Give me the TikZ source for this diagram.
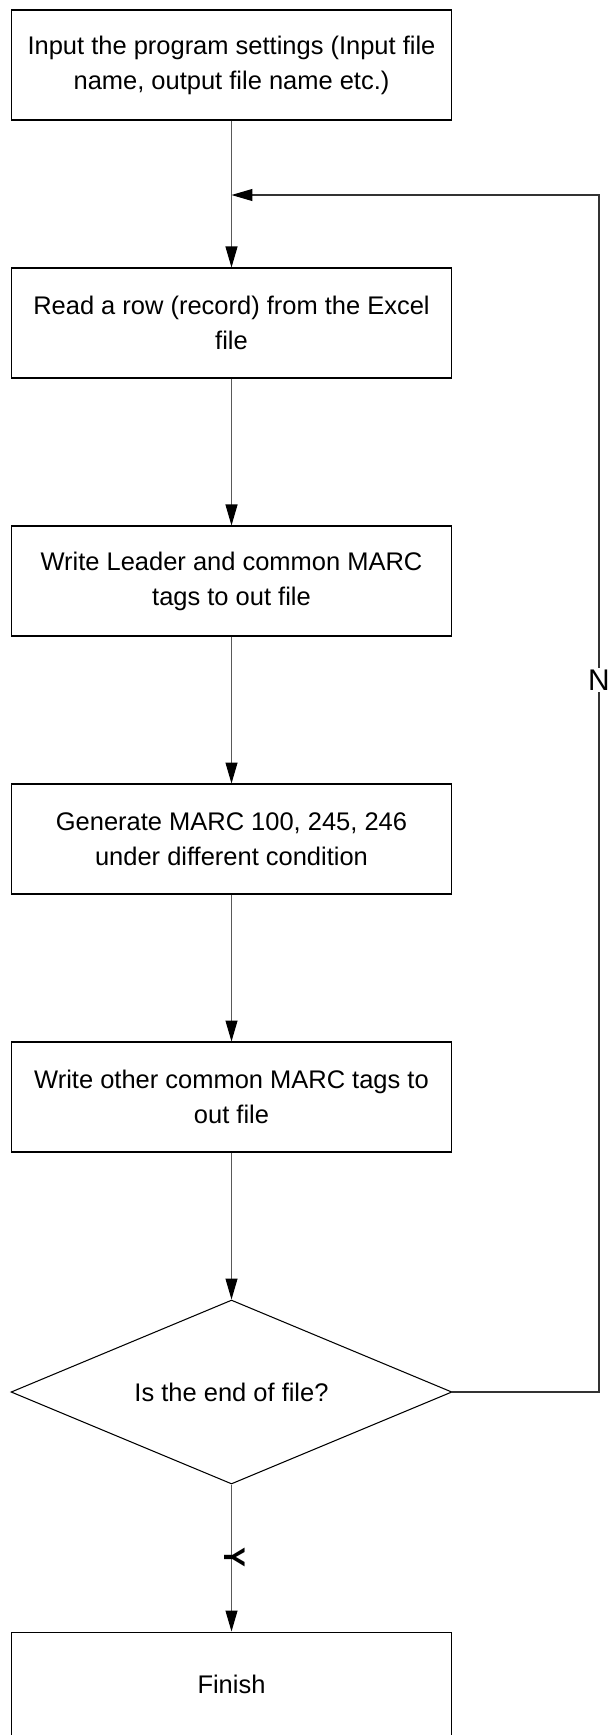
\documentclass[tikz,border=0pt]{standalone}
\usepackage{fontspec}
\setmainfont{Liberation Sans}
\usetikzlibrary{arrows.meta, shapes.geometric, calc, positioning}
\tikzset{
    procbox/.style={draw, line width=0.6pt, minimum width=8.82cm, minimum height=2.2cm, align=center, inner sep=0pt},
    decbox/.style={draw, diamond, aspect=2.4, line width=0.6pt, minimum width=8.82cm, minimum height=3.68cm, inner sep=0pt},
    flow/.style={draw=gray!70!black, line width=0.6pt, -{Triangle[length=0.42cm, width=0.24cm, color=black]}},
    brlabel/.style={font=\fontsize{17}{20}\selectfont},
}
\begin{document}
\begin{tikzpicture}[x=0.02cm, y=-0.02cm, font=\fontsize{14.5}{20}\selectfont]
    \useasboundingbox (0,0) rectangle (609,1735);
    \node[procbox] (setup) at (231.5,65) {Input the program settings (Input file\\name, output file name etc.)};
    \node[procbox] (readrow) at (231.5,323) {Read a row (record) from the Excel\\file};
    \node[procbox] (leader) at (231.5,581) {Write Leader and common MARC\\tags to out file};
    \node[procbox] (gen) at (231.5,839) {Generate MARC 100, 245, 246\\under different condition};
    \node[procbox] (other) at (231.5,1097) {Write other common MARC tags to\\out file};
    \node[decbox] (eof) at (231.5,1392) {Is the end of file?};
    \node[procbox, minimum height=2.08cm] (finish) at (231.5,1684) {Finish};
    \coordinate (join) at (231.5,195);
    \coordinate (loop-r) at (599,195);
    \draw[draw=gray!70!black, line width=0.6pt] (setup) -- (join);
    \draw[flow] (join) -- (readrow);
    \draw[flow] (readrow) -- (leader);
    \draw[flow] (leader) -- (gen);
    \draw[flow] (gen) -- (other);
    \draw[flow] (other) -- (eof);
    \draw[flow] (eof) -- (finish);
    \draw[flow, draw=black!80] (eof.east) -| (loop-r) -- (join);
    % branch labels
    \node[brlabel, fill=white, inner sep=1pt] (no) at (599,680) {N};
    \node[brlabel, rotate=-90, inner sep=0pt] (yes) at (235,1557) {\textbf{Y}};
\end{tikzpicture}
\end{document}
